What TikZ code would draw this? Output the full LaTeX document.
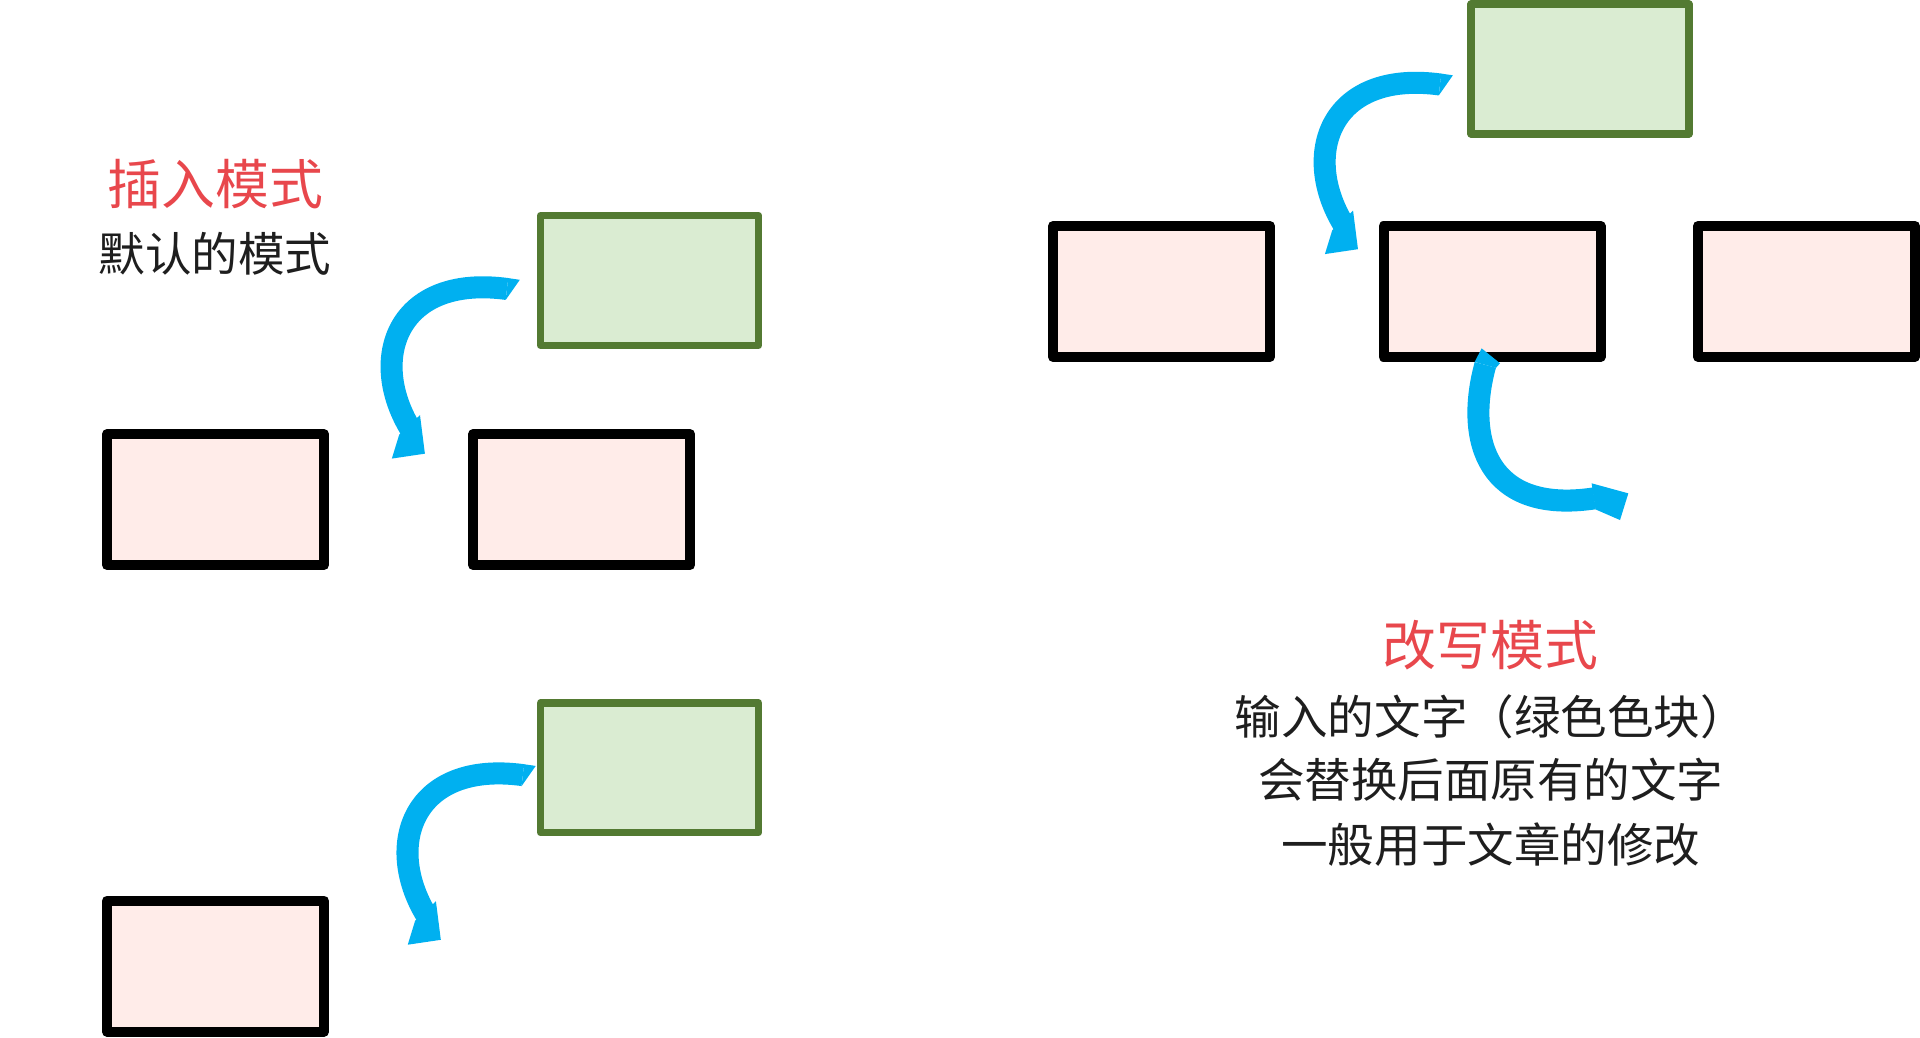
\documentclass[tikz,border=0pt]{standalone}
\usepackage{fontspec}
\newfontfamily\cjk{Noto Sans CJK SC}
\usetikzlibrary{calc}
\definecolor{pinkfill}{RGB}{255,236,233}
\definecolor{greenfill}{RGB}{218,236,210}
\definecolor{greenline}{RGB}{83,122,50}
\definecolor{arrowblue}{RGB}{0,176,240}
\definecolor{titlered}{RGB}{232,71,76}
\definecolor{bodyblack}{RGB}{30,30,30}
\tikzset{
  pinkbox/.style={draw=black, line width=4.1pt, line join=round, fill=pinkfill,
    minimum width=88.6pt, minimum height=53.5pt, inner sep=0pt},
  greenbox/.style={draw=greenline, line width=3pt, line join=round, fill=greenfill,
    minimum width=89pt, minimum height=53pt, inner sep=0pt},
  titletext/.style={inner sep=0pt, text=titlered, font=\cjk\fontsize{22pt}{26pt}\selectfont},
  bodytext/.style={inner sep=0pt, text=bodyblack, font=\cjk\fontsize{19pt}{23pt}\selectfont},
  shaft/.style={draw=arrowblue, line width=9pt},
  headfill/.style={fill=arrowblue, line join=round},
  curl/.pic={
    \fill[headfill] (415,227.1) -- (424.5,228.5) -- (413,244.9) -- cycle;
    \coordinate (-tail) at (414,236);
    \coordinate (-tip) at (335,350);
    \draw[shaft] (-tail) .. controls (325,224) and (300,292) .. (-tip);
    \fill[headfill] (343,339) -- (347,370.5) -- (320,374.5) -- (326,355) -- cycle;
  }
}
\begin{document}
\begin{tikzpicture}[x=0.5pt, y=-0.5pt]
\useasboundingbox (0,0) rectangle (1568,847);

% boxes
\node[greenbox] (A)  at (530.5,229) {};
\node[pinkbox]  (B1) at (176,408) {};
\node[pinkbox]  (B2) at (475,408) {};
\node[greenbox] (C)  at (530.5,627) {};
\node[pinkbox]  (D)  at (176,789) {};
\node[greenbox] (E)  at (1290.3,56.3) {};
\node[pinkbox]  (F1) at (948.5,238) {};
\node[pinkbox]  (F2) at (1218.5,238) {};
\node[pinkbox]  (F3) at (1475.3,238) {};

% texts
\node[titletext] (T1) at (176,150.4) {插入模式};
\node[bodytext]  (T2) at (175.6,207.6) {默认的模式};
\node[titletext] (T3) at (1217,526.5) {改写模式};
\node[bodytext]  (T4) at (1217.5,585) {输入的文字（绿色色块）};
\node[bodytext]  (T5) at (1217.5,637) {会替换后面原有的文字};
\node[bodytext]  (T6) at (1217.5,690) {一般用于文章的修改};

% curved arrows (green block -> insertion point)
\pic (a1) at (0,0) {curl};
\pic (a2) at (13,397) {curl};
\pic (a3) at (762,-167) {curl};

% arrow pushing the replaced block out
\coordinate (t4) at (1213,298);
\coordinate (h4) at (1302,407);
\fill[headfill] (1204.3,295.6) -- (1210,284.5) -- (1225,296.7) -- (1221.7,300.4) -- cycle;
\draw[shaft] (t4) .. controls (1196,360) and (1215,420) .. (h4);
\fill[headfill] (1299.8,394.7) -- (1329.8,402.9) -- (1323,424.7) -- (1303,416) -- cycle;
\end{tikzpicture}
\end{document}
